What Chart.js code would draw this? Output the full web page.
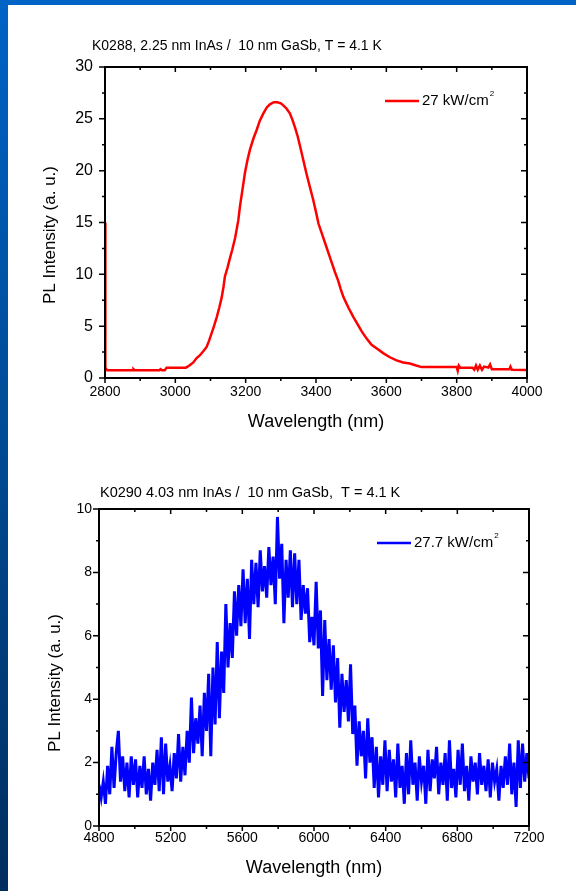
<!DOCTYPE html>
<html>
<head>
<meta charset="utf-8">
<script src="https://cdn.jsdelivr.net/npm/chart.js@4"></script>
<style>
  html, body { margin: 0; padding: 0; background: #fff; overflow: hidden; }
  body { width: 576px; height: 891px; position: relative; }
  .band-top { position: absolute; left: 0; top: 0; width: 576px; height: 5px; background: #0063c6; }
  .band-left { position: absolute; left: 0; top: 0; width: 8px; height: 891px;
    background: linear-gradient(#0063c6, #004a94 50%, #002e5e); }
  canvas { position: absolute; left: 0; }
  #chart1 { top: 30px; }
  #chart2 { top: 470px; }
</style>
</head>
<body>
<div class="band-top"></div>
<div class="band-left"></div>
<canvas id="chart1" width="576" height="420"></canvas>
<canvas id="chart2" width="576" height="421"></canvas>
<script>
// K0288 spectrum (red)
const redWavelength = [2800,2801,2806,2880,2881,2884,2955,2958,2962,2970,
  2975,3030,3040,3051,3060,3070,3080,3089,3096,3103,
  3110,3118,3125,3132,3137,3141,3148,3154,3162,3170,
  3179,3184,3191,3198,3205,3212,3222,3231,3240,3250,
  3260,3269,3280,3290,3300,3307,3316,3326,3333,3340,
  3348,3355,3364,3373,3382,3392,3400,3407,3416,3426,
  3436,3445,3454,3463,3470,3478,3492,3506,3518,3530,
  3544,3558,3575,3591,3610,3629,3648,3667,3685,3700,
  3800,3803,3806,3810,3845,3850,3855,3860,3866,3872,
  3878,3890,3895,3900,3950,3953,3957,4000];
const redIntensity = [15.0,1.0,0.75,0.75,0.85,0.75,0.75,0.85,0.75,0.75,
  1.0,1.0,1.2,1.5,1.9,2.2,2.6,3.0,3.6,4.3,
  5.0,5.9,6.8,7.8,8.8,9.8,10.6,11.4,12.4,13.5,
  15.2,16.6,18.2,19.8,21.0,22.0,23.1,23.9,24.8,25.5,
  26.1,26.4,26.6,26.6,26.5,26.3,26.0,25.5,24.9,24.2,
  23.3,22.3,21.0,19.7,18.5,17.2,16.0,14.9,14.0,13.0,
  12.0,11.1,10.2,9.4,8.6,7.8,6.8,5.9,5.2,4.5,
  3.8,3.2,2.8,2.4,2.0,1.7,1.5,1.4,1.2,1.05,
  1.05,0.7,1.2,1.0,1.0,0.8,1.2,0.8,1.2,0.8,
  1.1,1.0,1.3,0.85,0.85,1.1,0.8,0.77];

// K0290 spectrum (blue), sampled every 12 nm from 4800 nm
const blueStart = 4800;
const blueStep = 12;
const blueIntensity = [
  1.3,0.9,1.4,0.7,1.9,1.0,2.5,1.2,2.3,3.0,
  1.4,2.2,1.1,2.0,0.9,2.2,1.3,2.1,0.9,1.9,
  1.2,2.2,1.0,1.8,0.8,2.0,1.3,2.4,1.1,2.8,
  1.0,2.6,1.4,1.9,1.1,2.3,1.5,2.9,1.4,2.5,
  1.6,3.0,2.0,4.05,2.3,3.4,2.6,3.8,2.2,4.2,
  3.0,4.8,2.2,5.0,3.2,5.8,3.4,5.5,4.2,7.0,
  5.0,6.4,5.3,7.4,6.0,7.6,6.3,8.1,6.4,7.8,
  5.9,8.4,7.0,8.3,6.9,8.7,7.4,8.2,7.2,8.8,
  7.6,8.5,7.0,9.75,7.8,8.9,6.4,8.4,7.2,8.7,
  6.9,8.6,7.0,8.4,6.5,7.6,6.7,7.5,5.8,6.6,
  5.7,7.7,5.6,6.8,4.1,6.5,4.6,5.9,4.3,5.7,
  3.9,5.3,3.1,4.8,3.6,4.6,3.3,5.1,2.9,3.8,
  1.9,3.3,2.2,3.0,1.5,3.4,2.0,2.8,1.2,2.5,
  0.9,2.2,1.3,2.7,1.1,2.4,1.4,2.1,0.9,2.6,
  1.2,1.9,0.7,2.3,1.0,2.7,1.3,2.0,0.8,2.2,
  1.4,1.9,0.7,2.4,1.1,2.1,1.5,2.5,1.0,2.0,
  1.3,2.3,0.8,2.7,1.2,1.8,0.9,2.4,1.3,2.6,
  1.1,1.9,0.8,2.2,1.4,2.0,1.0,2.3,1.3,1.9,
  1.1,2.1,0.9,2.0,1.4,1.8,0.8,1.9,1.2,2.2,
  1.3,2.6,1.0,2.0,0.6,2.7,1.2,2.6,1.4,2.3,
  1.5];

const FONT = '"Liberation Sans", Arial, sans-serif';
Chart.defaults.font.family = FONT;
Chart.defaults.color = '#000';

// frame, inward/outward ticks, title, y title and legend drawn from the scales
const framePlugin = {
  id: 'frame',
  afterDatasetsDraw(chart, args, o) {
    const { ctx, chartArea: a, scales: { x, y } } = chart;
    ctx.save();
    ctx.strokeStyle = '#000';
    ctx.lineWidth = 2;
    ctx.strokeRect(a.left, a.top, a.right - a.left, a.bottom - a.top);

    const mids = s => {
      const t = s.ticks.map(k => k.value), out = [];
      for (let i = 0; i < t.length - 1; i++) out.push((t[i] + t[i + 1]) / 2);
      return out;
    };
    ctx.lineWidth = 1.5;
    ctx.beginPath();
    x.ticks.forEach(t => {
      const px = x.getPixelForValue(t.value);
      ctx.moveTo(px, a.bottom); ctx.lineTo(px, a.bottom + 5);
      ctx.moveTo(px, a.top); ctx.lineTo(px, a.top + 5);
    });
    mids(x).forEach(v => {
      const px = x.getPixelForValue(v);
      ctx.moveTo(px, a.bottom); ctx.lineTo(px, a.bottom + 3);
      ctx.moveTo(px, a.top); ctx.lineTo(px, a.top + 3);
    });
    y.ticks.forEach(t => {
      const py = y.getPixelForValue(t.value);
      ctx.moveTo(a.left - 6, py); ctx.lineTo(a.left, py);
      ctx.moveTo(a.right - 6, py); ctx.lineTo(a.right, py);
    });
    mids(y).forEach(v => {
      const py = y.getPixelForValue(v);
      ctx.moveTo(a.left - 3, py); ctx.lineTo(a.left, py);
      ctx.moveTo(a.right - 3, py); ctx.lineTo(a.right, py);
    });
    ctx.stroke();

    // chart title
    ctx.fillStyle = '#000';
    ctx.font = o.titleSize + 'px ' + FONT;
    ctx.textAlign = 'left';
    ctx.textBaseline = 'middle';
    ctx.fillText(o.title, o.titleX, o.titleY);

    // y axis title
    ctx.save();
    ctx.translate(o.yTitleX, o.yTitleY);
    ctx.rotate(-Math.PI / 2);
    ctx.font = '17px ' + FONT;
    ctx.textAlign = 'center';
    ctx.fillText('PL Intensity (a. u.)', 0, 0);
    ctx.restore();

    // legend
    const ds = chart.data.datasets[0];
    ctx.strokeStyle = ds.borderColor;
    ctx.lineWidth = 2.5;
    ctx.beginPath();
    ctx.moveTo(o.legendX, o.legendY);
    ctx.lineTo(o.legendX + 34, o.legendY);
    ctx.stroke();
    const main = ds.label.replace('²', '');
    ctx.font = '15px ' + FONT;
    ctx.textAlign = 'left';
    ctx.fillText(main, o.legendX + 37, o.legendY);
    const w = ctx.measureText(main).width;
    ctx.font = '8px ' + FONT;
    ctx.fillText('2', o.legendX + 38 + w, o.legendY - 7);
    ctx.restore();
  }
};

function makeChart(id, cfg) {
  return new Chart(document.getElementById(id), {
    type: 'line',
    data: {
      datasets: [{
        label: cfg.label,
        data: cfg.data,
        borderColor: cfg.color,
        borderWidth: cfg.lineWidth,
        pointRadius: 0,
        tension: 0,
        fill: false
      }]
    },
    options: {
      responsive: false,
      animation: false,
      layout: { padding: { left: 0, right: cfg.padRight, top: cfg.padTop, bottom: 0 } },
      plugins: {
        legend: { display: false },
        tooltip: { enabled: false },
        frame: cfg.frame
      },
      scales: {
        x: {
          type: 'linear',
          min: cfg.xMin, max: cfg.xMax,
          afterFit: s => { s.height = cfg.xHeight; },
          grid: { display: false, drawTicks: false },
          border: { display: false },
          ticks: {
            stepSize: cfg.xStep,
            padding: cfg.xPad,
            maxRotation: 0,
            font: { size: 14 },
            callback: v => String(v)
          },
          title: {
            display: true,
            text: 'Wavelength (nm)',
            font: { size: 18 },
            padding: { top: 0, bottom: cfg.xTitlePad }
          }
        },
        y: {
          min: 0, max: cfg.yMax,
          afterFit: s => { s.width = cfg.yWidth; },
          grid: { display: false, drawTicks: false },
          border: { display: false },
          ticks: {
            stepSize: cfg.yStep,
            padding: cfg.yPad,
            font: { size: cfg.yFont },
            callback: v => String(v)
          }
        }
      }
    },
    plugins: [framePlugin]
  });
}

makeChart('chart1', {
  label: '27 kW/cm²',
  color: '#ff0000',
  lineWidth: 2.5,
  data: redWavelength.map((w, i) => ({ x: w, y: redIntensity[i] })),
  xMin: 2800, xMax: 4000, xStep: 200,
  yMax: 30, yStep: 5,
  padTop: 37, padRight: 49,
  xHeight: 72, yWidth: 105,
  xPad: 6, yPad: 12, yFont: 16, xTitlePad: 17,
  frame: {
    title: 'K0288, 2.25 nm InAs /  10 nm GaSb, T = 4.1 K',
    titleSize: 14, titleX: 92, titleY: 16,
    yTitleX: 50, yTitleY: 205,
    legendX: 385, legendY: 71
  }
});

makeChart('chart2', {
  label: '27.7 kW/cm²',
  color: '#0000ff',
  lineWidth: 3,
  data: blueIntensity.map((v, i) => ({ x: blueStart + i * blueStep, y: v })),
  xMin: 4800, xMax: 7200, xStep: 400,
  yMax: 10, yStep: 2,
  padTop: 39, padRight: 47,
  xHeight: 65, yWidth: 99,
  xPad: 4, yPad: 7, yFont: 14, xTitlePad: 12,
  frame: {
    title: 'K0290 4.03 nm InAs /  10 nm GaSb,  T = 4.1 K',
    titleSize: 14.5, titleX: 100, titleY: 23,
    yTitleX: 55, yTitleY: 213,
    legendX: 377, legendY: 73
  }
});
</script>
</body>
</html>
